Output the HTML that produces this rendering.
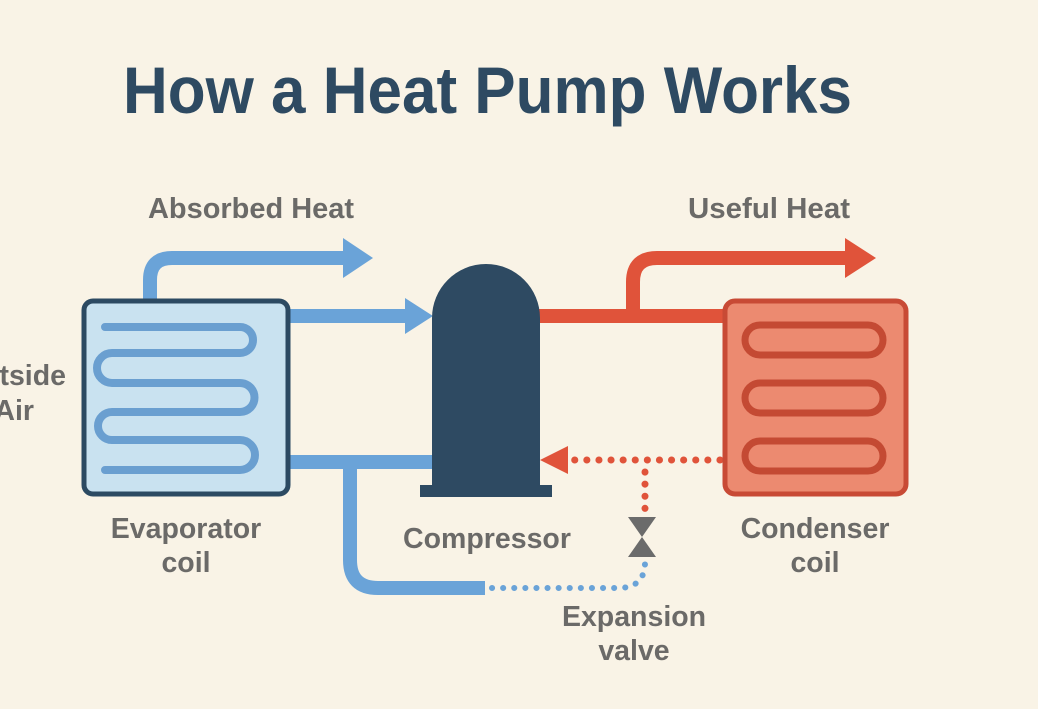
<!DOCTYPE html>
<html><head><meta charset="utf-8"><style>
html,body{margin:0;padding:0;background:#f9f3e6;}
svg{display:block;}
text{font-family:"Liberation Sans",sans-serif;font-weight:bold;}
</style></head><body>
<svg width="1038" height="709" viewBox="0 0 1038 709">
<rect width="1038" height="709" fill="#f9f3e6"/>
<text x="123" y="113" font-size="66" fill="#2e4a62" textLength="729" lengthAdjust="spacingAndGlyphs">How a Heat Pump Works</text>
<g font-size="28.5" fill="#6b6a68" text-anchor="middle">
<text x="251" y="218" textLength="206" lengthAdjust="spacingAndGlyphs">Absorbed Heat</text>
<text x="769" y="218" textLength="162" lengthAdjust="spacingAndGlyphs">Useful Heat</text>
<text x="66" y="385" text-anchor="end">tside</text>
<text x="34" y="420" text-anchor="end">Air</text>
<text x="186" y="538">Evaporator</text>
<text x="186" y="572">coil</text>
<text x="487" y="548">Compressor</text>
<text x="815" y="538">Condenser</text>
<text x="815" y="572">coil</text>
<text x="634" y="626">Expansion</text>
<text x="634" y="660">valve</text>
</g>
<!-- blue pipes -->
<g fill="none" stroke="#6aa3d8" stroke-width="14">
<path d="M150,302 V280 Q150,258 172,258 H346"/>
<path d="M288,316 H410"/>
<path d="M288,462 H434"/>
<path d="M350,462 V560 Q350,588 378,588 H485"/>
</g>
<polygon points="343,238 373,258 343,278" fill="#6aa3d8"/>
<polygon points="405,298 433,316 405,334" fill="#6aa3d8"/>
<path d="M492,588 H618 Q645,588 645,562" fill="none" stroke="#6aa3d8" stroke-width="6" stroke-dasharray="0.1,11" stroke-linecap="round"/>
<!-- red pipes -->
<g fill="none" stroke="#e0533a" stroke-width="14">
<path d="M538,316 H726"/>
<path d="M633,316 V282 Q633,258 657,258 H848"/>
</g>
<polygon points="845,238 876,258 845,278" fill="#e0533a"/>
<path d="M720,460 H574 M645,472 V518" fill="none" stroke="#e0533a" stroke-width="7" stroke-dasharray="0.1,12" stroke-linecap="round"/>
<polygon points="568,446 540,460 568,474" fill="#e0533a"/>
<!-- valve -->
<polygon points="628,517 656,517 642,537 656,557 628,557 642,537" fill="#6b6b6b"/>
<!-- compressor -->
<path d="M432,487 V318 A54,54 0 0 1 540,318 V487 Z" fill="#2e4a62"/>
<rect x="420" y="485" width="132" height="12" fill="#2e4a62"/>
<!-- evaporator -->
<rect x="84" y="301" width="204" height="193" rx="9" fill="#c9e2f0" stroke="#2c4a62" stroke-width="5"/>
<path d="M105,327 H240 A13,13 0 0 1 240,353 H112 A15,15 0 0 0 112,383 H240 A14.5,14.5 0 0 1 240,412 H112 A14,14 0 0 0 112,440 H240 A15,15 0 0 1 240,470 H105" fill="none" stroke="#6a9fd0" stroke-width="8" stroke-linecap="round"/>
<!-- condenser -->
<rect x="725" y="301" width="181" height="193" rx="10" fill="#ec8a70" stroke="#c84a35" stroke-width="5"/>
<g fill="none" stroke="#c44a33" stroke-width="7">
<rect x="745" y="325" width="138" height="30" rx="15"/>
<rect x="745" y="383" width="138" height="30" rx="15"/>
<rect x="745" y="441" width="138" height="30" rx="15"/>
</g>
</svg>
</body></html>
